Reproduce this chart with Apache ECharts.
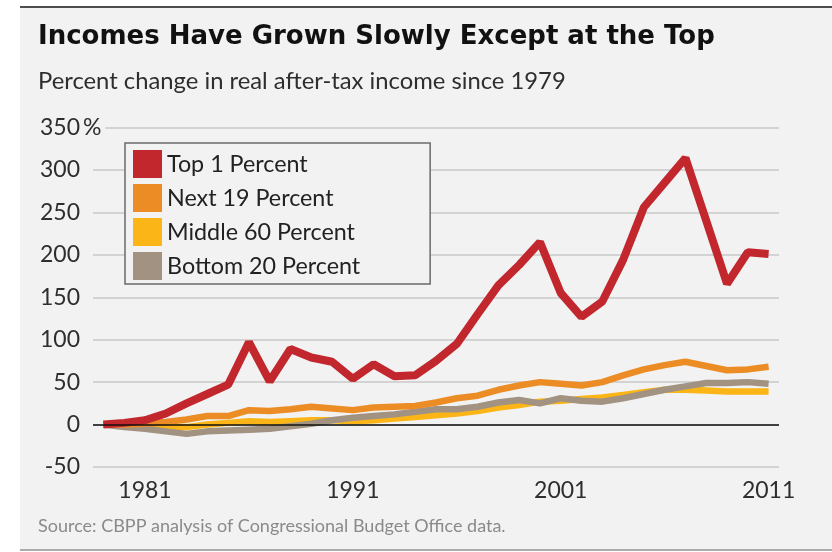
<!DOCTYPE html>
<html>
<head>
<meta charset="utf-8">
<script src="https://cdn.jsdelivr.net/npm/echarts@6/dist/echarts.min.js"></script>
<style>
  html, body { margin: 0; padding: 0; background: #ffffff; }
  #chart { width: 832px; height: 552px; }
</style>
</head>
<body>
<div id="chart"></div>
<script>
// Years on the horizontal axis
const years = ['1979','1980','1981','1982','1983','1984','1985','1986','1987','1988','1989',
  '1990','1991','1992','1993','1994','1995','1996','1997','1998','1999','2000',
  '2001','2002','2003','2004','2005','2006','2007','2008','2009','2010','2011'];
const xTickLabels = ['1981', '1991', '2001', '2011'];

// Percent change in real after-tax income since 1979
const top1 = [0, 2, 5, 13, 25, 36, 47, 97, 51, 89, 79, 74, 54, 71, 57, 58, 75, 95, 130, 164, 188, 215,
  155, 127, 145, 194, 256, 285, 314, 240, 166, 203, 201];
const next19 = [0, 0, 1, 3, 6, 10, 10, 17, 16, 18, 21, 19, 17, 20, 21, 22, 26, 31, 34, 41, 46, 50,
  48, 46, 50, 58, 65, 70, 74, 69, 64, 65, 68];
const middle60 = [0, -1, -2, -3, -3, 0, 2, 4, 3, 4, 5, 5, 4, 5, 7, 9, 11, 13, 16, 20, 23, 27,
  28, 30, 32, 35, 38, 41, 41, 40, 39, 39, 39];
const bottom20 = [0, -3, -5, -8, -11, -8, -7, -6, -5, -2, 1, 5, 8, 10, 12, 15, 18, 18, 21, 26, 29, 25,
  31, 28, 27, 31, 36, 41, 45, 49, 49, 50, 48];

const seriesNames = ['Top 1 Percent', 'Next 19 Percent', 'Middle 60 Percent', 'Bottom 20 Percent'];

const FONT = 'Lato, "Open Sans", sans-serif';
const TITLE_FONT = '"DejaVu Sans", "Open Sans", sans-serif';
const PANEL = '#f2f2f2';

const chart = echarts.init(document.getElementById('chart'), null, { renderer: 'canvas' });

const yAxisBase = {
  type: 'value',
  min: -50,
  max: 350,
  interval: 50,
  axisLine: { show: false },
  axisTick: { show: false }
};

chart.setOption({
  backgroundColor: '#ffffff',
  animation: false,
  graphic: [
    { type: 'rect', z: -100, silent: true, shape: { x: 20, y: 8, width: 812, height: 541 }, style: { fill: PANEL } },
    { type: 'rect', z: -99, silent: true, shape: { x: 20, y: 6, width: 812, height: 2 }, style: { fill: '#4d4d4d' } },
    { type: 'rect', z: -99, silent: true, shape: { x: 20, y: 549, width: 812, height: 2 }, style: { fill: '#ababab' } }
  ],
  title: [
    {
      text: 'Incomes Have Grown Slowly Except at the Top',
      left: 38, top: 24, padding: 0,
      textStyle: { fontFamily: TITLE_FONT, fontWeight: 'bold', fontSize: 26, color: '#111111' }
    },
    {
      text: 'Percent change in real after-tax income since 1979',
      left: 38, top: 69, padding: 0,
      textStyle: { fontFamily: FONT, fontWeight: 'normal', fontSize: 23.8, color: '#2e2e2e' }
    },
    {
      text: 'Source: CBPP analysis of Congressional Budget Office data.',
      left: 38, top: 517, padding: 0,
      textStyle: { fontFamily: FONT, fontWeight: 'normal', fontSize: 18, color: '#8a8a8a' }
    }
  ],
  legend: {
    data: seriesNames,
    orient: 'vertical',
    left: 125,
    top: 143,
    icon: 'rect',
    itemWidth: 29,
    itemHeight: 28,
    itemGap: 6,
    padding: [7, 70, 4, 8],
    borderColor: '#6b6b6b',
    borderWidth: 1.5,
    backgroundColor: PANEL,
    selectedMode: false,
    textStyle: { fontFamily: FONT, fontSize: 23.3, color: '#222222' }
  },
  grid: { left: 93, right: 53, top: 127.5, bottom: 85, containLabel: false },
  xAxis: {
    type: 'category',
    data: years,
    boundaryGap: true,
    axisLine: { show: false },
    axisTick: { show: false },
    axisLabel: {
      interval: (i, v) => xTickLabels.includes(v),
      margin: 12,
      fontFamily: FONT,
      fontSize: 23,
      color: '#2e2e2e'
    }
  },
  yAxis: [
    Object.assign({}, yAxisBase, {
      position: 'left',
      splitLine: { show: true, lineStyle: { color: '#c9c9c9', width: 1.5 } },
      axisLabel: {
        formatter: v => (v === 350 ? '' : String(v)),
        align: 'right',
        margin: 13,
        fontFamily: FONT,
        fontSize: 23,
        color: '#2e2e2e'
      }
    }),
    Object.assign({}, yAxisBase, {
      position: 'left',
      splitLine: { show: false },
      axisLabel: {
        formatter: v => (v === 350 ? '{p|350\u2009%}' : ''),
        align: 'left',
        margin: 53,
        rich: {
          p: {
            fontFamily: FONT,
            fontSize: 23,
            color: '#2e2e2e',
            backgroundColor: PANEL,
            padding: [0, 4, 0, 0]
          }
        }
      }
    })
  ],
  series: [
    {
      name: 'Middle 60 Percent', type: 'line', data: middle60,
      showSymbol: false, color: '#fbb516',
      lineStyle: { width: 6.5, color: '#fbb516' }
    },
    {
      name: 'Bottom 20 Percent', type: 'line', data: bottom20,
      showSymbol: false, color: '#a19282',
      lineStyle: { width: 6.5, color: '#a19282' }
    },
    {
      name: 'Next 19 Percent', type: 'line', data: next19,
      showSymbol: false, color: '#ec8c24',
      lineStyle: { width: 6.5, color: '#ec8c24' }
    },
    {
      name: 'Top 1 Percent', type: 'line', data: top1,
      showSymbol: false, color: '#c1272d',
      lineStyle: { width: 8, color: '#c1272d' },
      markLine: {
        silent: true,
        symbol: 'none',
        z: 10,
        label: { show: false },
        lineStyle: { color: '#111111', width: 1.5, type: 'solid' },
        emphasis: { disabled: true },
        data: [{ yAxis: 0 }]
      }
    }
  ]
});
</script>
</body>
</html>
